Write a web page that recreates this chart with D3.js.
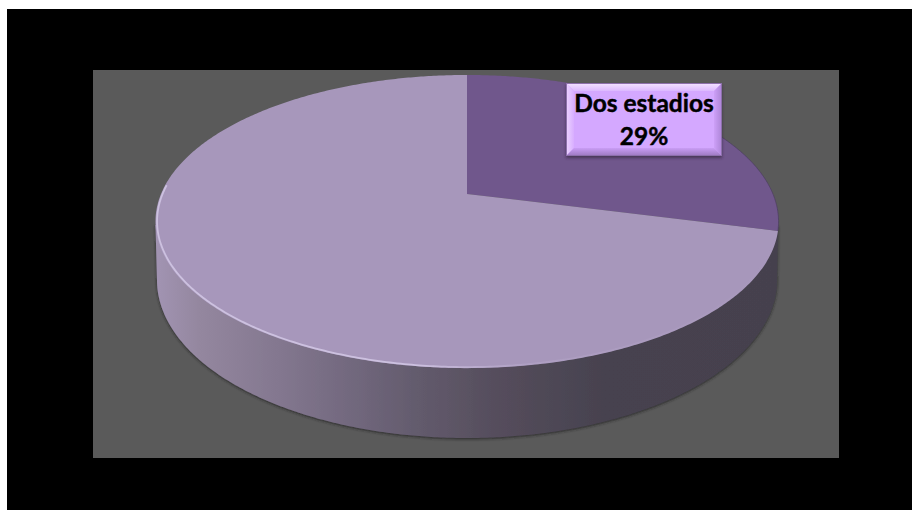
<!DOCTYPE html>
<html>
<head>
<meta charset="utf-8">
<script src="https://cdn.jsdelivr.net/npm/d3@7/dist/d3.min.js"></script>
<style>
html,body{margin:0;padding:0;background:#fff;overflow:hidden}
svg{display:block}
</style>
</head>
<body>
<svg id="chart" width="912" height="510"></svg>
<script>
// Pie data: share of each group, in percent
const categories = ["Dos estadios", "Otros"];
const shares = [29, 71];
const sliceColors = ["#70578c", "#a797bb"];
const labelLines = ["Dos estadios", "29%"];

const svg = d3.select("#chart");
const defs = svg.append("defs");

// Frame and plot area
svg.append("rect").attr("x", 7).attr("y", 9).attr("width", 905).attr("height", 501).attr("fill", "#000");
svg.append("rect").attr("x", 93).attr("y", 70).attr("width", 746).attr("height", 388).attr("fill", "#5a5a5a");

// Tilted disc: perspective projection of the unit circle onto the page
const cx = 467, cy = 194, R = 306, B = 141.4, k = 0.188;
function project(angle, r = 1) {
  const u = r * Math.sin(angle), v = -r * Math.cos(angle);
  const w = 1 - k * v;
  return [cx + R * u / w, cy + B * v / w];
}
const angleSamples = (a0, a1, step = 0.01) => {
  const n = Math.max(2, Math.ceil((a1 - a0) / step));
  return d3.range(n + 1).map(i => a0 + (a1 - a0) * i / n);
};
const linePath = d3.line();

const pie = d3.pie().sort(null).value(d => d)(shares);

// Side wall gradient, left to right
const wallStops = [
  [0, "#a294b3"], [0.07, "#94879f"], [0.2, "#83778f"], [0.3, "#746a80"],
  [0.42, "#635b6d"], [0.55, "#554d5c"], [0.72, "#47424f"], [1, "#45414e"]
];
const wallGrad = defs.append("linearGradient").attr("id", "wallGrad")
  .attr("gradientUnits", "userSpaceOnUse").attr("x1", 155).attr("x2", 778).attr("y1", 0).attr("y2", 0);
wallStops.forEach(s => wallGrad.append("stop").attr("offset", s[0]).attr("stop-color", s[1]));

const shadow = defs.append("filter").attr("id", "wallShadow")
  .attr("x", "-5%").attr("y", "-5%").attr("width", "110%").attr("height", "115%");
shadow.append("feDropShadow").attr("dx", 0).attr("dy", 1).attr("stdDeviation", 1.6)
  .attr("flood-color", "#222").attr("flood-opacity", 0.85);

// Lower rim of the wall
const rimCx = 467, rimCy = 280, rimRx = 310, rimRy = 158;
const rimPts = angleSamples(0, Math.PI).map(t => [rimCx + rimRx * Math.cos(t), rimCy + rimRy * Math.sin(t)]);
const topLeft = [155.5, 225], topRight = [778, 225];
const wallPts = [topRight, ...rimPts, topLeft];
svg.append("path")
  .attr("d", linePath(wallPts) + "Z")
  .attr("fill", "url(#wallGrad)")
  .attr("filter", "url(#wallShadow)");

// Top face slices
const blur = defs.append("filter").attr("id", "soft");
blur.append("feGaussianBlur").attr("stdDeviation", 0.7);

svg.append("g").selectAll("path").data(pie).join("path")
  .attr("d", d => {
    const pts = angleSamples(d.startAngle, d.endAngle).map(a => project(a));
    return linePath([[cx, cy], ...pts]) + "Z";
  })
  .attr("fill", (d, i) => sliceColors[i]);

// Bevel highlight along the near edge of the face
const rimGrad = defs.append("linearGradient").attr("id", "rimGrad")
  .attr("gradientUnits", "userSpaceOnUse").attr("x1", 155).attr("x2", 780).attr("y1", 0).attr("y2", 0);
[[0, "#d3c8e6", 0.85], [0.42, "#d3c8e6", 0.85], [0.6, "#b8a9cc", 0.45], [1, "#b8a9cc", 0]]
  .forEach(s => rimGrad.append("stop").attr("offset", s[0]).attr("stop-color", s[1]).attr("stop-opacity", s[2]));
svg.append("path")
  .attr("d", linePath(angleSamples(Math.PI * 0.6, Math.PI * 1.52).map(a => project(a, 0.995))))
  .attr("fill", "none").attr("stroke", "url(#rimGrad)").attr("stroke-width", 1.8)
  .attr("filter", "url(#soft)");

// Darker edge on the far right of the purple slice
svg.append("path")
  .attr("d", linePath(angleSamples(pie[0].startAngle + 0.7, pie[0].endAngle).map(a => project(a))))
  .attr("fill", "none").attr("stroke", "#4c3d60").attr("stroke-width", 1).attr("stroke-opacity", 0.7)
  .attr("filter", "url(#soft)");

// Value label box with bevelled edges
const box = { x: 566, y: 83, w: 156, h: 73, b: 8 };
const boxShadow = defs.append("filter").attr("id", "boxShadow")
  .attr("x", "-10%").attr("y", "-10%").attr("width", "120%").attr("height", "125%");
boxShadow.append("feDropShadow").attr("dx", 0).attr("dy", 2).attr("stdDeviation", 1.5)
  .attr("flood-color", "#2a2030").attr("flood-opacity", 0.6);

function bevelGradient(id, x1, y1, x2, y2, from, to) {
  const g = defs.append("linearGradient").attr("id", id)
    .attr("x1", x1).attr("y1", y1).attr("x2", x2).attr("y2", y2);
  g.append("stop").attr("offset", 0).attr("stop-color", from);
  g.append("stop").attr("offset", 1).attr("stop-color", to);
}
bevelGradient("bevelTop", 0, 0, 0, 1, "#f4e4ff", "#dcb8ff");
bevelGradient("bevelLeft", 0, 0, 1, 0, "#ecd4ff", "#d8aeff");
bevelGradient("bevelRight", 0, 0, 1, 0, "#cda0f8", "#ac84d6");
bevelGradient("bevelBottom", 0, 0, 0, 1, "#c99df5", "#9c78bf");

const label = svg.append("g");
label.append("rect").attr("x", box.x).attr("y", box.y).attr("width", box.w).attr("height", box.h)
  .attr("fill", "#d4a8ff").attr("filter", "url(#boxShadow)");

const x0 = box.x, x1 = box.x + box.w, y0 = box.y, y1 = box.y + box.h, b = box.b;
const bevels = [
  { pts: [[x0, y0], [x1, y0], [x1 - b, y0 + b], [x0 + b, y0 + b]], c: "url(#bevelTop)" },
  { pts: [[x0, y0], [x0 + b, y0 + b], [x0 + b, y1 - b], [x0, y1]], c: "url(#bevelLeft)" },
  { pts: [[x1, y0], [x1, y1], [x1 - b, y1 - b], [x1 - b, y0 + b]], c: "url(#bevelRight)" },
  { pts: [[x0, y1], [x0 + b, y1 - b], [x1 - b, y1 - b], [x1, y1]], c: "url(#bevelBottom)" }
];
label.selectAll("path.bevel").data(bevels).join("path").attr("class", "bevel")
  .attr("d", d => linePath(d.pts) + "Z").attr("fill", d => d.c);
label.append("rect").attr("x", x0 + 0.5).attr("y", y0 + 0.5).attr("width", box.w - 1).attr("height", box.h - 1)
  .attr("fill", "none").attr("stroke", "#8d6fab").attr("stroke-width", 1);

label.selectAll("text").data(labelLines).join("text")
  .attr("x", x0 + box.w / 2)
  .attr("y", (d, i) => 112 + i * 33)
  .attr("text-anchor", "middle")
  .attr("font-family", "Lato, 'Open Sans', sans-serif")
  .attr("font-weight", 700)
  .attr("font-size", 24.5)
  .attr("fill", "#000")
  .attr("stroke", "#000")
  .attr("stroke-width", 0.45)
  .text(d => d);
</script>
</body>
</html>
